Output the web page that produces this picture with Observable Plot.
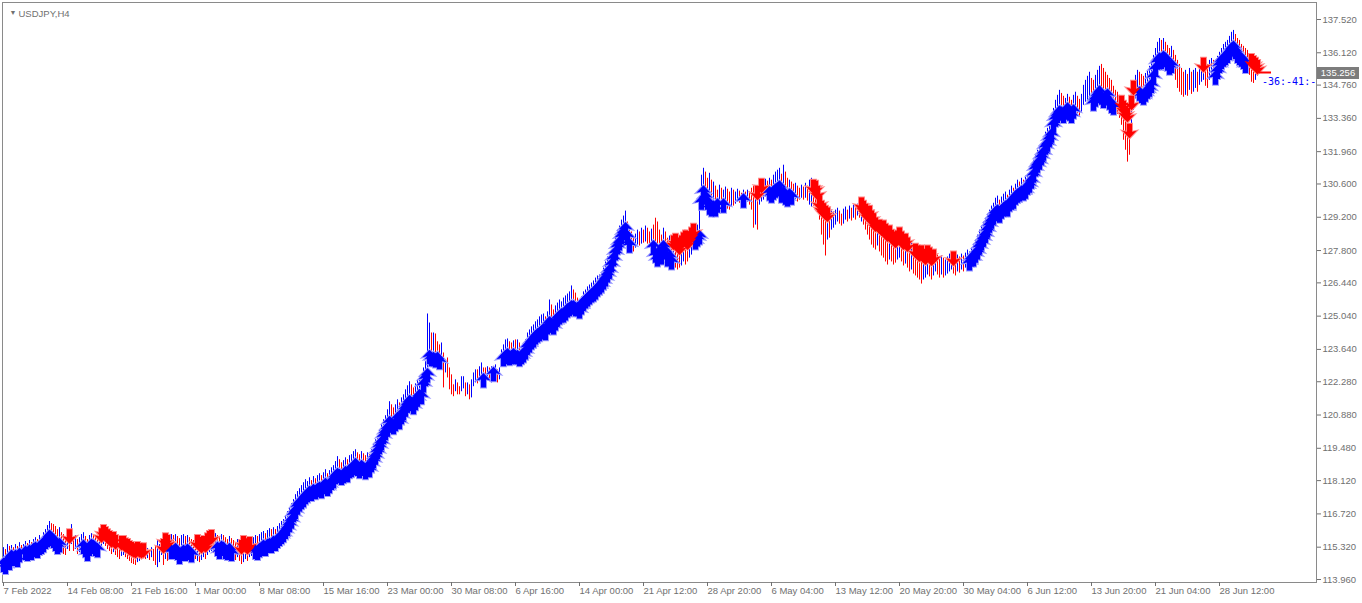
<!DOCTYPE html>
<html><head><meta charset="utf-8">
<script src="https://cdn.jsdelivr.net/npm/d3@7"></script>
<script src="https://cdn.jsdelivr.net/npm/@observablehq/plot@0.6"></script>
<style>
html,body{margin:0;padding:0;background:#fff;}
#chart{width:1362px;height:603px;overflow:hidden;}
</style></head><body><div id="chart"></div>
<script>
const symbolName = "USDJPY,H4";
const lastPrice = 135.256;
const timerText = "-36:-41:-";
const yTicks = [137.52,136.12,134.76,133.36,131.96,130.60,129.20,127.80,126.44,125.04,123.64,122.28,120.88,119.48,118.12,116.72,115.32,113.96];
const xTickIndex = [0,32,64,96,128,160,192,224,256,288,320,352,384,416,448,480,512,544,576,608];
const xTickLabels = ["7 Feb 2022","14 Feb 08:00","21 Feb 16:00","1 Mar 00:00","8 Mar 08:00","15 Mar 16:00","23 Mar 00:00","30 Mar 08:00","6 Apr 16:00","14 Apr 00:00","21 Apr 12:00","28 Apr 20:00","6 May 04:00","13 May 12:00","20 May 20:00","30 May 04:00","6 Jun 12:00","13 Jun 20:00","21 Jun 04:00","28 Jun 12:00"];

const high = [
115.30,115.22,115.43,115.35,115.39,115.30,115.43,115.35,115.51,115.39,
115.43,115.56,115.47,115.60,115.51,115.64,115.72,115.64,115.81,115.72,
115.93,116.06,116.23,116.40,116.31,116.27,116.19,116.06,116.14,115.93,
115.85,115.77,115.98,115.89,116.27,115.72,115.81,115.64,115.72,115.85,
115.93,115.77,115.64,115.81,115.89,115.85,115.77,115.64,115.81,115.93,
116.06,115.98,115.89,115.81,115.72,115.77,115.64,115.56,115.47,115.60,
115.60,115.51,115.47,115.39,115.35,115.30,115.26,115.35,115.30,115.26,
115.30,115.22,115.26,115.18,115.30,115.22,115.35,115.60,115.43,115.64,
115.47,115.72,115.64,115.77,115.85,115.81,115.85,115.77,115.68,115.81,
115.85,115.77,115.81,115.72,115.64,115.60,115.51,115.64,115.56,115.47,
115.60,115.51,115.72,115.81,115.85,115.77,115.89,115.81,115.72,115.85,
115.81,115.72,115.64,115.77,115.68,115.60,115.51,115.64,115.56,115.43,
115.60,115.51,115.43,115.56,115.64,115.72,115.81,115.77,115.85,115.93,
115.98,115.89,116.02,116.10,116.06,116.14,116.06,116.19,116.31,116.40,
116.48,116.65,116.82,116.98,117.15,117.32,117.53,117.66,117.78,117.91,
118.03,118.16,118.08,118.24,118.12,118.29,118.20,118.33,118.41,118.33,
118.45,118.58,118.41,118.54,118.66,118.75,118.92,119.13,119.00,118.87,
118.96,119.08,119.00,119.17,119.21,119.34,119.42,119.29,119.21,119.34,
119.25,119.17,119.29,119.21,119.42,119.63,119.84,120.01,120.26,120.47,
120.68,120.85,121.10,121.44,121.31,121.18,121.31,121.52,121.39,121.60,
121.73,121.94,122.11,122.28,122.15,122.02,122.19,122.36,122.49,122.32,
122.86,123.12,125.13,124.75,124.33,124.33,124.29,123.96,123.83,123.91,
123.49,123.20,123.28,122.86,122.57,122.15,122.36,122.23,122.07,122.49,
122.49,122.23,122.23,122.15,122.36,122.65,122.78,122.78,122.91,123.07,
122.86,122.86,122.91,122.86,122.91,122.91,122.99,122.78,122.86,123.62,
123.83,124.04,124.08,123.96,123.91,124.00,124.04,124.04,123.91,123.79,
123.83,124.04,124.33,124.46,124.59,124.67,124.80,124.88,125.01,125.09,
125.13,125.01,125.22,125.72,125.51,125.30,125.47,125.59,125.72,125.64,
125.80,125.89,125.97,126.06,126.31,126.14,126.01,125.80,125.72,125.85,
126.06,126.14,126.27,126.35,126.43,126.52,126.64,126.73,126.77,126.85,
127.06,127.32,127.53,127.61,127.82,128.11,128.41,128.66,128.83,129.08,
129.25,129.46,129.00,128.74,128.58,128.41,128.49,128.66,128.58,128.74,
128.66,128.83,128.74,128.58,128.70,128.87,129.16,129.00,128.66,128.45,
128.74,128.58,128.32,128.41,128.24,128.24,128.32,128.16,128.03,128.24,
128.37,128.45,128.24,128.41,128.58,128.74,128.66,128.87,129.67,130.97,
131.26,131.10,130.84,131.05,130.76,130.68,130.51,130.34,130.55,130.42,
130.34,130.47,130.38,130.26,130.42,130.34,130.26,130.38,130.30,130.21,
130.34,130.26,130.34,130.26,130.42,130.51,130.42,130.34,130.55,130.63,
130.68,130.80,130.72,130.84,130.76,130.97,131.10,131.18,131.26,131.01,
131.39,131.10,130.84,130.76,130.68,130.59,130.63,130.51,130.42,130.55,
130.47,130.63,130.51,130.76,130.84,130.59,130.55,130.34,129.92,129.71,
129.58,129.50,129.42,129.33,129.50,129.42,129.50,129.58,129.46,129.33,
129.54,129.63,129.50,129.67,129.58,129.71,129.63,129.75,129.67,129.84,
129.71,129.58,129.42,129.50,129.29,129.16,129.00,129.08,128.91,128.83,
128.87,128.74,128.58,128.66,128.49,128.41,128.32,128.45,128.58,128.41,
128.24,128.32,128.16,128.03,128.11,127.99,127.90,127.82,127.74,127.82,
127.69,127.61,127.82,127.74,127.57,127.65,127.74,127.61,127.48,127.57,
127.48,127.40,127.53,127.65,127.74,127.57,127.48,127.61,127.53,127.65,
127.57,127.69,127.82,127.74,127.90,128.07,128.24,128.45,128.66,128.83,
129.00,129.16,129.33,129.50,129.67,129.79,130.00,130.09,129.92,130.05,
130.17,130.26,130.13,130.34,130.51,130.42,130.59,130.76,130.68,130.84,
130.76,130.93,131.01,131.10,131.26,131.60,131.81,132.02,132.10,132.31,
132.52,132.78,132.94,133.11,133.36,133.78,134.12,134.33,134.54,134.41,
134.29,134.20,134.37,134.25,134.12,134.33,134.46,134.29,134.16,134.37,
134.75,134.96,135.13,135.30,135.04,134.96,135.17,135.38,135.55,135.63,
135.46,135.30,135.17,135.04,134.96,134.71,134.54,134.46,134.33,134.12,
133.91,133.70,133.62,132.94,134.12,134.75,135.17,135.38,135.30,135.21,
135.13,135.25,135.38,135.55,135.72,136.01,136.30,136.56,136.72,136.64,
136.72,136.56,136.43,136.30,136.39,136.22,136.01,135.80,135.63,135.46,
135.30,135.38,135.21,135.46,135.30,135.38,135.46,135.30,135.55,135.63,
135.72,135.80,135.63,135.80,135.88,135.80,135.72,135.97,136.14,136.30,
136.47,136.56,136.64,136.81,136.98,137.06,136.89,136.72,136.64,136.47,
136.39,136.30,136.22,136.01,135.88,135.80,135.72,135.63
];
const low = [
114.46,114.38,114.59,114.55,114.80,114.72,114.80,114.67,114.88,114.80,
114.88,114.97,114.93,115.01,114.97,115.09,115.14,115.05,115.18,115.22,
115.30,115.43,115.51,115.64,115.56,115.47,115.35,115.22,115.30,115.09,
115.01,114.97,115.22,115.14,115.43,115.14,115.22,115.01,115.09,115.18,
115.22,115.09,114.93,115.14,115.26,115.22,115.14,115.09,115.26,115.30,
115.43,115.35,115.22,115.14,115.01,115.09,114.97,114.88,114.80,114.93,
114.97,114.88,114.80,114.72,114.63,114.59,114.55,114.67,114.72,114.80,
114.88,114.80,114.84,114.76,114.88,114.72,114.55,114.46,114.67,114.97,
114.55,114.80,114.72,114.97,115.01,115.01,115.09,114.97,114.80,114.93,
115.01,114.93,115.05,114.97,114.88,114.84,114.80,114.72,114.67,114.76,
114.88,114.80,114.97,115.09,115.14,115.05,115.22,115.14,115.01,115.18,
115.14,115.01,114.97,115.09,114.93,114.84,114.76,114.88,114.72,114.59,
114.67,114.80,114.72,114.88,114.93,114.97,115.01,114.97,115.09,115.14,
115.22,115.14,115.26,115.30,115.26,115.39,115.35,115.47,115.56,115.64,
115.72,115.85,115.98,116.14,116.31,116.56,116.69,116.90,117.03,117.11,
117.19,117.32,117.40,117.49,117.45,117.57,117.53,117.61,117.66,117.57,
117.74,117.82,117.66,117.78,117.91,117.99,118.16,118.24,118.20,118.12,
118.20,118.33,118.24,118.41,118.45,118.54,118.66,118.50,118.41,118.58,
118.50,118.37,118.54,118.45,118.66,118.83,119.00,119.21,119.42,119.59,
119.84,120.01,120.18,120.43,120.34,120.26,120.39,120.60,120.47,120.68,
120.85,121.02,121.18,121.31,121.23,121.10,121.27,121.44,121.56,121.52,
122.02,122.28,122.44,123.20,123.12,123.12,123.07,123.12,122.99,122.91,
122.02,122.65,122.44,121.94,121.73,121.65,121.86,121.73,121.73,121.86,
121.98,121.65,121.73,121.52,121.60,122.07,122.23,122.19,122.28,122.49,
122.23,122.15,122.36,122.28,122.23,122.49,122.44,122.23,122.36,123.07,
123.12,123.20,123.28,123.16,123.20,123.28,123.20,123.20,123.12,123.20,
123.28,123.41,123.62,123.70,123.83,123.91,124.04,124.12,124.17,124.25,
124.33,124.21,124.46,124.63,124.54,124.46,124.63,124.80,124.88,124.96,
124.96,125.05,125.17,125.22,125.30,125.30,125.22,125.22,125.13,125.30,
125.47,125.55,125.64,125.72,125.80,125.85,125.93,126.06,126.14,126.22,
126.35,126.48,126.64,126.81,127.06,127.32,127.57,127.82,127.99,128.24,
128.41,128.58,128.24,127.90,127.82,127.74,127.90,128.03,127.99,128.07,
128.11,128.16,128.07,127.99,128.03,127.82,127.48,127.32,127.61,127.40,
127.82,127.61,127.32,127.40,127.19,127.27,127.06,126.98,127.06,127.15,
127.32,127.19,127.32,127.48,127.61,127.90,128.03,128.16,128.24,129.71,
130.13,129.92,129.71,129.50,129.42,129.50,129.42,129.58,129.71,129.50,
129.58,129.67,129.54,129.50,129.63,129.67,129.75,129.84,129.79,129.71,
129.79,129.75,129.84,129.71,129.50,128.74,128.87,128.66,129.71,129.84,
129.92,130.05,129.96,130.09,130.00,130.13,130.21,130.26,130.34,130.00,
130.09,129.92,129.84,130.00,129.92,129.92,129.96,129.84,129.92,130.00,
129.92,130.00,129.88,129.71,129.63,129.67,129.58,129.50,129.08,128.45,
128.03,127.57,128.24,128.32,128.66,128.74,128.87,129.00,128.91,128.83,
128.91,129.08,129.00,129.12,129.04,129.16,129.08,129.25,129.16,129.00,
128.87,128.66,128.45,128.24,128.03,127.90,127.82,127.99,127.74,127.57,
127.48,127.32,127.19,127.40,127.32,127.19,127.27,127.40,127.48,127.32,
127.15,127.23,127.06,126.90,126.98,126.81,126.73,126.64,126.56,126.39,
126.56,126.64,126.77,126.69,126.56,126.73,126.90,126.77,126.64,126.77,
126.64,126.73,126.81,126.90,126.98,126.81,126.73,126.90,126.85,126.98,
126.90,127.06,126.98,127.15,127.32,127.32,127.48,127.61,127.82,127.99,
128.16,128.32,128.53,128.74,128.91,129.08,129.25,129.33,129.16,129.33,
129.42,129.50,129.42,129.63,129.71,129.75,129.92,130.00,130.05,130.13,
130.09,130.17,130.34,130.42,130.59,130.84,131.10,131.26,131.39,131.60,
131.77,132.02,132.15,132.36,132.52,132.94,133.20,133.36,133.49,133.45,
133.36,133.49,133.62,133.45,133.36,133.53,133.70,133.57,133.45,133.62,
133.91,134.04,134.12,134.20,133.95,133.87,134.04,134.20,134.33,134.12,
133.99,134.12,134.20,133.91,133.78,133.70,133.49,133.53,133.36,133.07,
132.44,132.02,131.52,131.81,132.86,133.70,134.20,134.33,134.29,134.20,
134.12,134.25,134.37,134.46,134.62,134.96,135.30,135.59,135.72,135.63,
135.80,135.72,135.55,135.38,135.46,135.30,134.96,134.62,134.46,134.33,
134.25,134.33,134.29,134.54,134.37,134.46,134.62,134.46,134.75,134.88,
134.96,134.71,134.62,134.96,135.13,135.04,134.96,135.21,135.46,135.63,
135.72,135.80,135.88,136.01,136.14,136.22,136.05,135.88,135.80,135.72,
135.63,135.46,135.38,135.17,134.88,134.83,134.96,135.13
];
// runs of bars (first index, last index) carrying an up (blue) or down (red) arrow signal
const upRuns = [[0,8],[11,28],[40,47],[84,94],[107,114],[126,218],[240,240],[245,245],[250,313],[325,334],[346,357],[360,360],[370,370],[383,394],[483,535],[545,555],[568,584],[606,621]];
const downRuns = [[33,33],[49,56],[59,70],[80,82],[97,104],[119,123],[335,345],[377,377],[379,379],[405,412],[429,436],[438,452],[456,465],[475,475],[559,565],[600,600],[624,627]];

const bars = high.map((h, i) => ({i, high: h, low: low[i], mid: (h + low[i]) / 2}));
bars.forEach((b, k) => { b.up = k === 0 || b.mid >= bars[k - 1].mid; });
const inRuns = (runs, i) => runs.some(([a, b]) => i >= a && i <= b);
const ups = bars.filter(b => inRuns(upRuns, b.i));
const downs = bars.filter(b => inRuns(downRuns, b.i));

const upArrow = {draw(c) {
  c.moveTo(0, -10); c.lineTo(7, -2.5); c.lineTo(2.5, -3.5); c.lineTo(2.5, 4.5);
  c.lineTo(-2.5, 4.5); c.lineTo(-2.5, -3.5); c.lineTo(-7, -2.5); c.closePath();
}};
const downArrow = {draw(c) {
  c.moveTo(0, 10); c.lineTo(7, 2.5); c.lineTo(2.5, 3.5); c.lineTo(2.5, -4.5);
  c.lineTo(-2.5, -4.5); c.lineTo(-2.5, 3.5); c.lineTo(-7, 2.5); c.closePath();
}};

const gray = "#707070";
const plot = Plot.plot({
  width: 1362, height: 603,
  marginLeft: 2, marginRight: 46, marginTop: 2, marginBottom: 21,
  style: {background: "#fff", fontFamily: "'Liberation Sans', Arial, sans-serif", fontSize: "9.5px", color: gray},
  x: {type: "linear", domain: [0, high.length - 1], range: [3, 3 + 2 * (high.length - 1)], label: null},
  y: {type: "linear", domain: [113.96, 137.52], range: [579, 19], label: null},
  marks: [
    Plot.frame({stroke: "#8a8a8a"}),
    Plot.ruleX(bars.filter(b => b.up), {x: "i", y1: "low", y2: "high", stroke: "#0000ff", strokeWidth: 1}),
    Plot.ruleX(bars.filter(b => !b.up), {x: "i", y1: "low", y2: "high", stroke: "#ff0000", strokeWidth: 1}),
    // halos first, then solid fills on top so clusters read as solid blobs
    Plot.dot(ups, {x: "i", y: "low", symbol: upArrow, fill: "#9a9aff", stroke: "#9a9aff", strokeWidth: 2}),
    Plot.dot(downs, {x: "i", y: "high", symbol: downArrow, fill: "#ff8a8a", stroke: "#ff8a8a", strokeWidth: 2}),
    Plot.dot(ups, {x: "i", y: "low", symbol: upArrow, fill: "#0000ff"}),
    Plot.dot(downs, {x: "i", y: "high", symbol: downArrow, fill: "#ff0000"}),
    Plot.axisY(yTicks, {anchor: "right", tickSize: 4, tickPadding: 2, tickFormat: d => d.toFixed(3), color: gray, label: null}),
    Plot.axisX(xTickIndex, {anchor: "bottom", tickSize: 4, tickPadding: 1, tickFormat: d => xTickLabels[xTickIndex.indexOf(d)], textAnchor: "start", color: gray, label: null}),
    Plot.text(["▼"], {frameAnchor: "top-left", text: d => d, dx: 7, dy: 8, fontSize: 7, fill: gray}),
    Plot.text([symbolName], {frameAnchor: "top-left", text: d => d, dx: 16, dy: 8, textAnchor: "start", fill: gray, fontSize: 9.5})
  ]
});
document.getElementById("chart").appendChild(plot);

// current price tag, bid marker and timer text
const ys = plot.scale("y"), xs = plot.scale("x");
const yy = Math.round(ys.apply(lastPrice));
const xl = xs.apply(high.length - 1);
const svg = d3.select(plot);
svg.append("rect").attr("x", 1317).attr("y", yy - 6).attr("width", 42).attr("height", 12).attr("fill", "#7c7c7c");
svg.append("text").attr("x", 1338).attr("y", yy).attr("dy", "0.35em").attr("text-anchor", "middle")
  .attr("fill", "#ffffff").attr("font-size", 9.5).attr("font-family", "'Liberation Sans', Arial, sans-serif").text(lastPrice.toFixed(3));
svg.append("line").attr("x1", xl + 2).attr("x2", xl + 14).attr("y1", yy - 0.5).attr("y2", yy - 0.5).attr("stroke", "#ff0000").attr("stroke-width", 2);
svg.append("text").attr("x", xl + 5).attr("y", yy + 8).attr("dy", "0.35em").attr("text-anchor", "start").attr("fill", "#0000ff")
  .attr("font-size", 10).attr("font-family", "'DejaVu Sans Mono', monospace").text(timerText);
</script>
</body></html>
